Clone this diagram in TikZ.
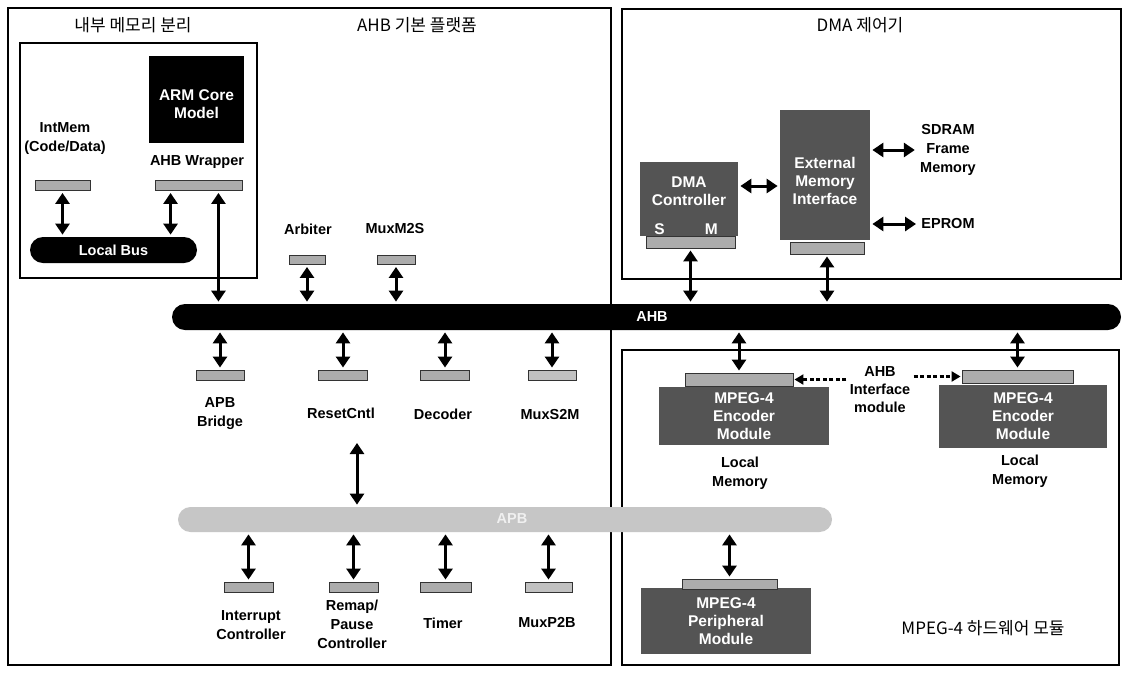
\documentclass[tikz,border=0pt]{standalone}
\usepackage{fontspec}
\setmainfont{Liberation Sans}
\newfontfamily\kofont{Noto Sans CJK KR}
\usetikzlibrary{arrows.meta}

\definecolor{blkgray}{RGB}{84,84,84}
\definecolor{portgray}{RGB}{172,172,172}
\definecolor{apbgray}{RGB}{198,198,198}

\tikzset{every picture/.style={line width=0.75pt}}
\tikzset{
  frame/.style={draw, line width=1.3pt},
  port/.style={draw=black!80, fill=portgray, line width=0.9pt, inner sep=0pt, minimum height=10pt},
  blk/.style={fill=blkgray, text=white, font=\fontsize{15.5}{18}\selectfont\bfseries, align=center, inner sep=0pt},
  lbl/.style={font=\fontsize{14.5}{19}\selectfont\bfseries, align=center, inner sep=3pt},
  ttl/.style={font=\fontsize{17}{20}\selectfont\kofont, inner sep=0pt},
  dbl/.style={{Triangle[length=11pt,width=14pt]}-{Triangle[length=11pt,width=14pt]}, line width=3pt, shorten <=2pt, shorten >=2pt},
  dsh/.style={-{Triangle[length=9pt,width=10pt]}, line width=2.2pt, dash pattern=on 4pt off 2.5pt, shorten >=1pt},
}

\begin{document}
\begin{tikzpicture}[x=1pt,y=1pt,yscale=-1,xscale=1]
	\useasboundingbox (0,0) rectangle (1127,673);
	\fill[white] (0,0) rectangle (1127,673);

	%Shape: Rectangle [frames]
	\draw[frame] (8,8) rectangle (611,665);
	\draw[frame] (20,43) rectangle (257,278);
	\draw[frame] (622,9) rectangle (1121,279);
	\draw[frame] (622,350) rectangle (1119,665);

	% Text Node
	\node[ttl] (tMem) at (133,25) {내부 메모리 분리};
	% Text Node
	\node[ttl] (tAhb) at (417,25) {AHB 기본 플랫폼};
	% Text Node
	\node[ttl] (tDma) at (860,25) {DMA 제어기};
	% Text Node
	\node[ttl] (tMpeg) at (983,628) {MPEG-4 하드웨어 모듈};

	%Shape: Rectangle [ARM core]
	\node[blk, fill=black, minimum width=95pt, minimum height=87pt] (arm) at (196.5,99.5) {};
	\node[blk, fill=none] (tArm) at ([yshift=5pt]arm.center) {ARM Core\\Model};
	% Text Node
	\node[lbl] (lWrap) at (197,162) {AHB Wrapper};
	\node[port, minimum width=87pt] (pWrap) at (198.5,185.5) {};
	% Text Node
	\node[lbl] (lMem) at (65,139) {IntMem\\(Code/Data)};
	\node[port, minimum width=55pt] (pMem) at (62.5,185.5) {};
	%Shape: Local bus
	\node[blk, fill=black, rounded corners=13pt, minimum width=167pt, minimum height=26pt, font=\fontsize{14.5}{17}\selectfont\bfseries] (lbus) at (113.5,250) {Local Bus};

	%Shape: AHB bus
	\node[blk, fill=black, rounded corners=13pt, minimum width=949pt, minimum height=26pt] (ahb) at (646.5,317) {};
	\node[lbl, text=white] (lAhb) at (652,317) {AHB};
	%Shape: APB bus
	\node[blk, fill=apbgray, rounded corners=12.5pt, minimum width=654pt, minimum height=25pt] (apb) at (505,519.5) {};
	\node[lbl, text=white!88!gray] (lApb) at (512,519) {APB};

	% Arbiter, MuxM2S
	\node[lbl] (lArb) at (308,229) {Arbiter};
	\node[port, minimum width=36pt, minimum height=9pt] (pArb) at (307,260) {};
	\node[lbl] (lM2S) at (395,229) {MuxM2S};
	\node[port, minimum width=38pt, minimum height=9pt] (pM2S) at (396,260) {};

	% AHB slaves
	\node[port, minimum width=48pt] (pBridge) at (220,375) {};
	\node[lbl] (lBridge) at (220,414) {APB\\Bridge};
	\node[port, minimum width=49pt] (pReset) at (343,375) {};
	\node[lbl] (lReset) at (341,413) {ResetCntl};
	\node[port, minimum width=49pt] (pDec) at (445,375) {};
	\node[lbl] (lDec) at (443,414) {Decoder};
	\node[port, minimum width=48pt, fill=portgray!75] (pS2M) at (552,375) {};
	\node[lbl] (lS2M) at (550,414) {MuxS2M};
	\coordinate (rsTop) at (357,441);

	% APB slaves
	\node[port, minimum width=49pt] (pIrq) at (248.5,587) {};
	\node[lbl] (lIrq) at (251,625) {Interrupt\\Controller};
	\node[port, minimum width=49pt] (pRemap) at (353.5,587) {};
	\node[lbl] (lRemap) at (352,624) {Remap/\\Pause\\Controller};
	\node[port, minimum width=51pt] (pTimer) at (445.5,587) {};
	\node[lbl] (lTimer) at (443,623) {Timer};
	\node[port, minimum width=47pt, fill=portgray!75] (pP2B) at (548.5,587) {};
	\node[lbl] (lP2B) at (547,622) {MuxP2B};

	% MPEG-4 modules
	\node[blk, minimum width=170pt, minimum height=58pt] (enc1) at (744,416) {MPEG-4\\Encoder\\Module};
	\node[port, minimum width=108pt, minimum height=13pt] (pEnc1) at (739,379.5) {};
	\node[lbl] (lLoc1) at (740,473) {Local\\Memory};
	\node[blk, minimum width=168pt, minimum height=63pt] (enc2) at (1023,416.5) {MPEG-4\\Encoder\\Module};
	\node[port, minimum width=111pt, minimum height=13pt] (pEnc2) at (1017.5,376.5) {};
	\node[lbl] (lLoc2) at (1020,471) {Local\\Memory};
	\node[lbl, font=\fontsize{14.5}{18}\selectfont\bfseries] (lIf) at (880,390) {AHB\\Interface\\module};
	\node[blk, minimum width=170pt, minimum height=66pt] (per) at (726,621) {MPEG-4\\Peripheral\\Module};
	\node[port, minimum width=95pt] (pPer) at (729.5,584) {};

	% DMA
	\node[blk, minimum width=98pt, minimum height=74pt] (dmac) at (689,199) {};
	\node[blk, fill=none] (tDmac) at ([yshift=-8pt]dmac.center) {DMA\\Controller};
	\node[blk, fill=none] (tS) at ([xshift=20pt,yshift=-7pt]dmac.south west) {S};
	\node[blk, fill=none] (tM) at ([xshift=-27pt,yshift=-7pt]dmac.south east) {M};
	\node[port, minimum width=89pt, minimum height=12pt] (pDma) at (690.5,242) {};
	\node[blk, minimum width=90pt, minimum height=130pt] (emi) at (825,175) {};
	\node[blk, fill=none] (tEmi) at ([yshift=6pt]emi.center) {External\\Memory\\Interface};
	\node[port, minimum width=74pt, minimum height=12pt] (pEmi) at (827,248) {};
	\node[lbl] (lSdram) at (948,150) {SDRAM\\Frame\\Memory};
	\node[lbl] (lEprom) at (948,224) {EPROM};

	%Straight Lines [internal memory]
	\draw[dbl] (pMem.south) -- (pMem.south |- lbus.north);
	\draw[dbl] ([xshift=16pt]pWrap.south west) -- ([xshift=16pt]pWrap.south west |- lbus.north);
	\draw[dbl] ([xshift=-24pt]pWrap.south east) -- ([xshift=-24pt]pWrap.south east |- ahb.north);
	%Straight Lines [masters]
	\draw[dbl] (pArb.south) -- (pArb.south |- ahb.north);
	\draw[dbl] (pM2S.south) -- (pM2S.south |- ahb.north);
	\draw[dbl] (pDma.south) -- (pDma.south |- ahb.north);
	\draw[dbl] (pEmi.south) -- (pEmi.south |- ahb.north);
	%Straight Lines [AHB slaves]
	\draw[dbl] (pBridge.north |- ahb.south) -- (pBridge.north);
	\draw[dbl] (pReset.north |- ahb.south) -- (pReset.north);
	\draw[dbl] (pDec.north |- ahb.south) -- (pDec.north);
	\draw[dbl] (pS2M.north |- ahb.south) -- (pS2M.north);
	\draw[dbl] (pEnc1.north |- ahb.south) -- (pEnc1.north);
	\draw[dbl] (pEnc2.north |- ahb.south) -- (pEnc2.north);
	\draw[dbl] (rsTop) -- (rsTop |- apb.north);
	%Straight Lines [APB slaves]
	\draw[dbl] (pIrq.north |- apb.south) -- (pIrq.north);
	\draw[dbl] (pRemap.north |- apb.south) -- (pRemap.north);
	\draw[dbl] (pTimer.north |- apb.south) -- (pTimer.north);
	\draw[dbl] (pP2B.north |- apb.south) -- (pP2B.north);
	\draw[dbl] (pPer.north |- apb.south) -- (pPer.north);
	%Straight Lines [DMA]
	\draw[dbl] ([yshift=-13pt]dmac.east) -- ([yshift=-13pt]dmac.east -| emi.west);
	\draw[dbl] (emi.east |- lSdram.west) -- (lSdram.west);
	\draw[dbl] (emi.east |- lEprom.west) -- (lEprom.west);
	%Straight Lines [interface module]
	\draw[dsh] (lIf.west |- pEnc1.east) -- (pEnc1.east);
	\draw[dsh] (lIf.east |- pEnc2.west) -- (pEnc2.west);

\end{tikzpicture}
\end{document}
